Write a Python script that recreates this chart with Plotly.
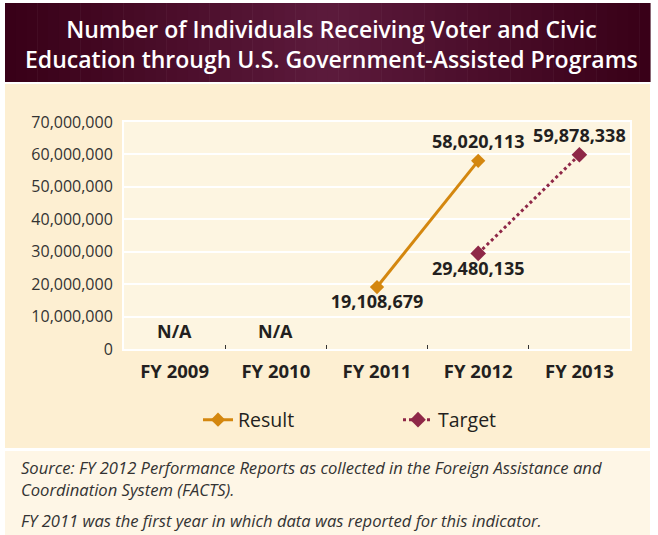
import plotly.graph_objects as go

categories = ["FY 2009", "FY 2010", "FY 2011", "FY 2012", "FY 2013"]
result_x = ["FY 2011", "FY 2012"]
result_y = [19108679, 58020113]
target_x = ["FY 2012", "FY 2013"]
target_y = [29480135, 59878338]
na_cats = ["FY 2009", "FY 2010"]
y_ticks = [0, 10000000, 20000000, 30000000, 40000000, 50000000, 60000000, 70000000]
y_tick_labels = ["0", "10,000,000", "20,000,000", "30,000,000", "40,000,000",
                 "50,000,000", "60,000,000", "70,000,000"]

RESULT_C = "#D4870F"
TARGET_C = "#8E2747"
TXT = "#231F20"
W, H = 658, 535
L, R, T, B = 124, 28, 122, 186
PW, PH = W - L - R, H - T - B


def px(x):
    return (x - L) / PW


def py(y):
    return (H - B - y) / PH


fig = go.Figure()
fig.add_trace(go.Scatter(x=categories, y=[None] * len(categories), showlegend=False,
                         hoverinfo="skip", mode="lines"))
fig.add_trace(go.Scatter(
    x=result_x, y=result_y, name="Result", mode="lines+markers+text",
    line=dict(color=RESULT_C, width=3),
    marker=dict(symbol="diamond", size=11, color=RESULT_C),
    text=[f"{v:,}" for v in result_y],
    textposition=["bottom center", "top center"], cliponaxis=False,
    textfont=dict(family="Open Sans", size=18, color=TXT, weight="bold"),
))
fig.add_trace(go.Scatter(
    x=target_x, y=target_y, name="Target", mode="lines+markers+text",
    line=dict(color=TARGET_C, width=3, dash="dot"),
    marker=dict(symbol="diamond", size=12, color=TARGET_C),
    text=[f"{v:,}" for v in target_y],
    textposition=["bottom center", "top center"], cliponaxis=False,
    textfont=dict(family="Open Sans", size=18, color=TXT, weight="bold"),
))

shapes = []
shapes.append(dict(type="rect", xref="paper", yref="paper", layer="below",
                   x0=px(5), x1=px(650), y0=py(448), y1=py(84),
                   fillcolor="#FDEFD2", line=dict(width=0)))
shapes.append(dict(type="rect", xref="paper", yref="paper", layer="below",
                   x0=px(5), x1=px(650), y0=py(535), y1=py(451),
                   fillcolor="#FEF6E6", line=dict(width=0)))
shapes.append(dict(type="rect", xref="paper", yref="paper", layer="below",
                   x0=0, x1=1, y0=0, y1=1,
                   fillcolor="#FDF5E1", line=dict(width=0)))
n = 60
x0p, x1p = 5, 650


def lerp(a, b, t):
    return int(round(a + (b - a) * t))


dark = (0x38, 0x00, 0x17)
light = (0x5C, 0x1A, 0x3C)
for i in range(n):
    t = 1 - abs((i + 0.5) / n - 0.5) * 2
    c = tuple(lerp(dark[k], light[k], t) for k in range(3))
    xa = x0p + (x1p - x0p) * i / n
    xb = x0p + (x1p - x0p) * (i + 1) / n + 0.6
    shapes.append(dict(type="rect", xref="paper", yref="paper", layer="below",
                       x0=px(xa), x1=px(xb), y0=py(82), y1=py(3),
                       fillcolor="rgb(%d,%d,%d)" % c, line=dict(width=0)))

annotations = [
    dict(text="Number of Individuals Receiving Voter and Civic<br>Education through U.S. Government-Assisted Programs",
         xref="paper", yref="paper", x=px(331), y=py(44), showarrow=False,
         font=dict(family="Open Sans", size=23, color="white", weight=600),
         align="center", xanchor="center", yanchor="middle"),
    dict(text="<i>Source: FY 2012 Performance Reports as collected in the Foreign Assistance and<br>Coordination System (FACTS).</i>",
         xref="paper", yref="paper", x=px(19), y=py(478), showarrow=False,
         font=dict(family="Open Sans", size=16.6, color="#333333"),
         align="left", xanchor="left", yanchor="middle"),
    dict(text="<i>FY 2011 was the first year in which data was reported for this indicator.</i>",
         xref="paper", yref="paper", x=px(19), y=py(520), showarrow=False,
         font=dict(family="Open Sans", size=16.6, color="#333333"),
         align="left", xanchor="left", yanchor="middle"),
]
for c in na_cats:
    annotations.append(dict(text="N/A", x=c, y=0, xref="x", yref="y", showarrow=False,
                            yanchor="bottom", yshift=4,
                            font=dict(family="Open Sans", size=18, color=TXT, weight="bold")))

fig.update_layout(
    width=W, height=H,
    margin=dict(l=L, r=R, t=T, b=B),
    paper_bgcolor="white",
    plot_bgcolor="rgba(0,0,0,0)",
    shapes=shapes,
    annotations=annotations,
    showlegend=True,
    legend=dict(orientation="h", x=px(398), xanchor="center", y=py(420), yanchor="middle",
                font=dict(family="Open Sans", size=19.5, color=TXT),
                bgcolor="rgba(0,0,0,0)", entrywidth=155, entrywidthmode="pixels"),
    xaxis=dict(categoryorder="array", categoryarray=categories, type="category",
               range=[-0.5, 4.5], tickson="boundaries", ticks="inside", ticklen=4,
               tickcolor="#333333", showgrid=False, showline=True, mirror=True,
               linecolor="white", linewidth=2,
               tickfont=dict(family="Open Sans", size=18.5, color=TXT, weight="bold"),
               ticklabelstandoff=5, fixedrange=True),
    yaxis=dict(range=[0, 70000000], tickvals=y_ticks, ticktext=y_tick_labels,
               showgrid=True, gridcolor="white", gridwidth=2, zeroline=False,
               showline=True, mirror=True, linecolor="white", linewidth=2,
               tickfont=dict(family="Open Sans", size=16, color="#333333"),
               ticklabelstandoff=6, fixedrange=True),
)

fig.write_html("out.html")
